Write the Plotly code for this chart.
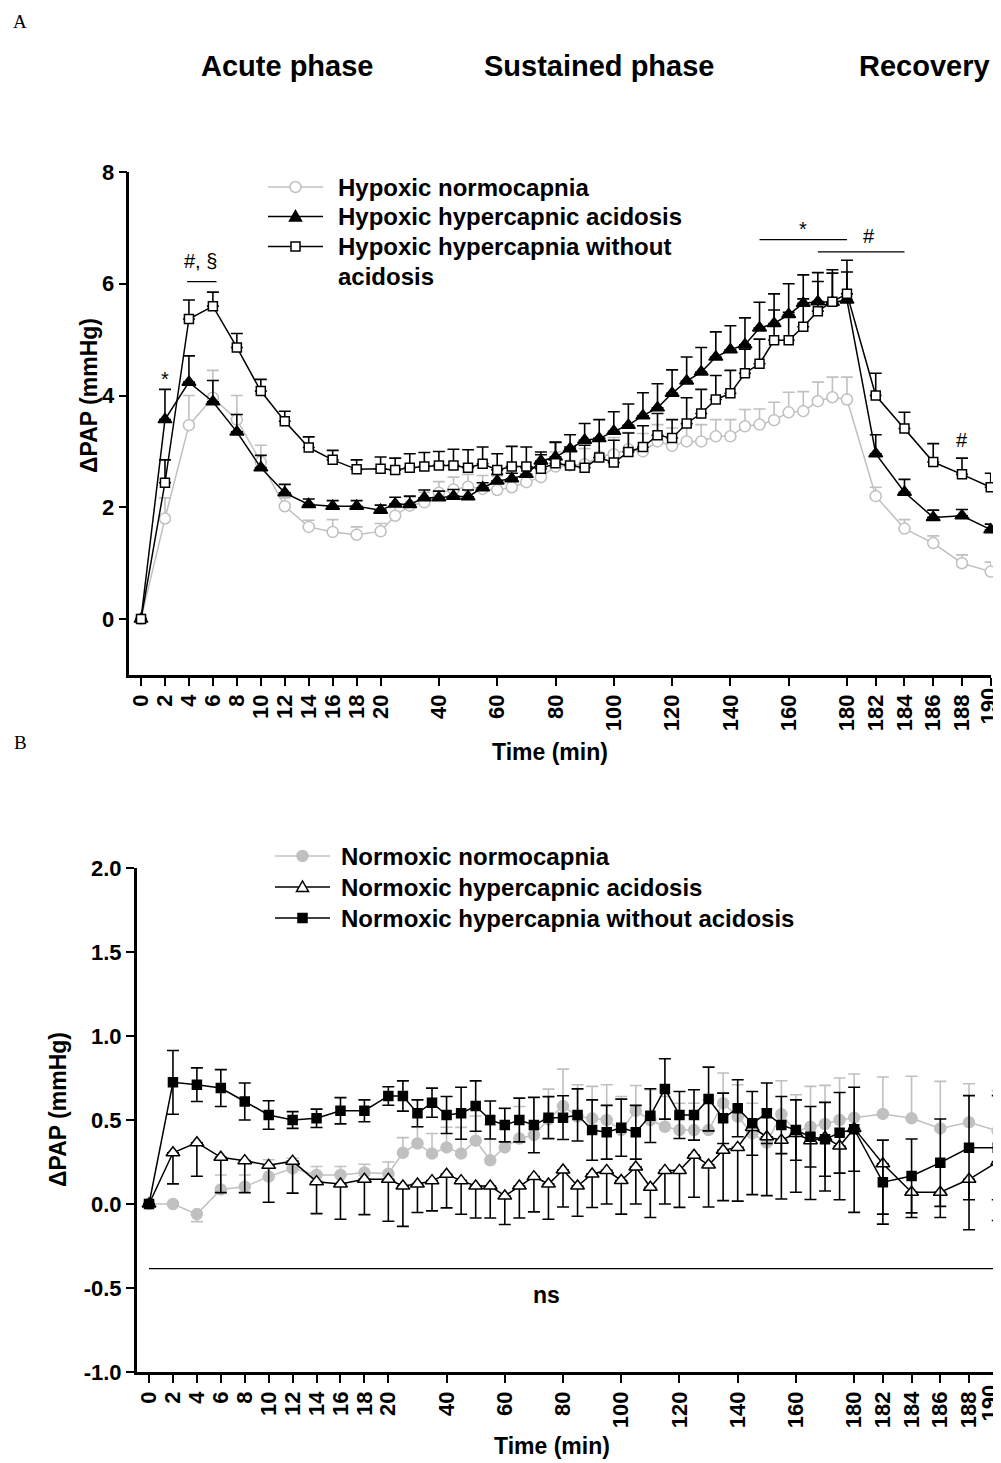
import numpy as np
import plotly.graph_objects as go

# ---------------- data ----------------
TIME = [0, 2, 4, 6, 8, 10, 12, 14, 16, 18, 20,
        25, 30, 35, 40, 45, 50, 55, 60, 65, 70, 75, 80, 85, 90, 95, 100,
        105, 110, 115, 120, 125, 130, 135, 140, 145, 150, 155, 160, 165, 170, 175, 180,
        182, 184, 186, 188, 190]

TICK_TIMES = [0, 2, 4, 6, 8, 10, 12, 14, 16, 18, 20, 40, 60, 80, 100, 120, 140, 160,
              180, 182, 184, 186, 188, 190]
TICK_LABELS = [str(t) for t in TICK_TIMES]

# Panel A
hypoxic_normocapnia = [0, 1.80, 3.47, 3.96, 3.57, 2.81, 2.02, 1.65, 1.56, 1.51, 1.57,
                       1.85, 2.03, 2.09, 2.26, 2.32, 2.37, 2.33, 2.31, 2.36, 2.45, 2.54, 2.73, 2.75, 2.77, 2.91, 2.95,
                       3.04, 3.00, 3.18, 3.10, 3.18, 3.18, 3.27, 3.27, 3.45, 3.48, 3.56, 3.70, 3.72, 3.90, 3.97, 3.93,
                       2.20, 1.62, 1.36, 1.00, 0.85]
hypoxic_normocapnia_sem = [0, 0.37, 0.53, 0.49, 0.43, 0.30, 0.15, 0.12, 0.22, 0.14, 0.14,
                           0.15, 0.15, 0.18, 0.20, 0.22, 0.22, 0.24, 0.25, 0.25, 0.25, 0.27, 0.26, 0.28, 0.28, 0.28, 0.30,
                           0.30, 0.32, 0.30, 0.32, 0.30, 0.30, 0.30, 0.30, 0.30, 0.28, 0.32, 0.36, 0.35, 0.34, 0.36, 0.40,
                           0.16, 0.16, 0.13, 0.15, 0.17]

hypoxic_hca = [0, 3.57, 4.24, 3.89, 3.35, 2.71, 2.26, 2.05, 2.02, 2.02, 1.95,
               2.06, 2.05, 2.17, 2.17, 2.20, 2.19, 2.35, 2.47, 2.51, 2.59, 2.83, 2.90, 3.05, 3.20, 3.23, 3.36,
               3.47, 3.64, 3.78, 4.04, 4.26, 4.42, 4.69, 4.82, 4.91, 5.21, 5.29, 5.45, 5.65, 5.68, 5.67, 5.71,
               2.96, 2.27, 1.82, 1.85, 1.60]
hypoxic_hca_sem = [0, 0.54, 0.47, 0.38, 0.31, 0.22, 0.15, 0.10, 0.10, 0.10, 0.09,
                   0.12, 0.15, 0.14, 0.12, 0.12, 0.12, 0.09, 0.12, 0.10, 0.12, 0.16, 0.26, 0.25, 0.30, 0.34, 0.35,
                   0.38, 0.41, 0.43, 0.42, 0.43, 0.44, 0.45, 0.43, 0.48, 0.46, 0.53, 0.55, 0.51, 0.52, 0.58, 0.50,
                   0.34, 0.23, 0.13, 0.11, 0.10]

hypoxic_hc_noacid = [0, 2.44, 5.37, 5.60, 4.86, 4.08, 3.54, 3.07, 2.85, 2.68, 2.69,
                     2.67, 2.71, 2.73, 2.75, 2.75, 2.71, 2.78, 2.67, 2.73, 2.73, 2.69, 2.79, 2.75, 2.71, 2.89, 2.80,
                     2.99, 3.08, 3.29, 3.24, 3.50, 3.68, 3.93, 4.04, 4.40, 4.57, 4.99, 4.99, 5.23, 5.51, 5.68, 5.82,
                     4.00, 3.41, 2.81, 2.59, 2.36]
hypoxic_hc_noacid_sem = [0, 0.41, 0.34, 0.25, 0.25, 0.21, 0.18, 0.19, 0.17, 0.17, 0.21,
                         0.21, 0.25, 0.25, 0.25, 0.29, 0.32, 0.30, 0.29, 0.36, 0.35, 0.25, 0.38, 0.33, 0.40, 0.35, 0.40,
                         0.34, 0.38, 0.39, 0.33, 0.46, 0.43, 0.43, 0.41, 0.43, 0.44, 0.54, 0.50, 0.50, 0.53, 0.51, 0.60,
                         0.40, 0.29, 0.33, 0.29, 0.25]

# Panel B
normoxic_normocapnia = [0, 0.0, -0.06, 0.087, 0.103, 0.163, 0.212, 0.173, 0.173, 0.187, 0.18,
                        0.305, 0.36, 0.30, 0.337, 0.30, 0.377, 0.26, 0.337, 0.39, 0.41, 0.504, 0.583, 0.52, 0.51, 0.50, 0.44,
                        0.555, 0.50, 0.46, 0.44, 0.44, 0.44, 0.60, 0.52, 0.42, 0.365, 0.534, 0.43, 0.46, 0.476, 0.50, 0.514,
                        0.536, 0.51, 0.45, 0.486, 0.435]
normoxic_normocapnia_sem_up = [0, 0, 0, 0.086, 0.07, 0.10, 0.06, 0.05, 0.05, 0.05, 0.07,
                               0.09, 0.10, 0.12, 0.12, 0.156, 0.147, 0.21, 0.23, 0.19, 0.22, 0.18, 0.22, 0.19, 0.19, 0.21, 0.20,
                               0.15, 0.18, 0.18, 0.16, 0.16, 0.18, 0.18, 0.19, 0.18, 0.20, 0.20, 0.22, 0.24, 0.23, 0.25, 0.26,
                               0.22, 0.25, 0.28, 0.23, 0.24]
normoxic_normocapnia_sem_down = [0, 0, 0.045, 0, 0, 0, 0, 0, 0, 0, 0,
                                 0, 0, 0, 0, 0, 0, 0, 0, 0, 0, 0, 0, 0, 0, 0, 0,
                                 0, 0, 0, 0, 0, 0, 0, 0, 0, 0, 0, 0, 0, 0, 0, 0,
                                 0, 0, 0, 0, 0]

normoxic_hca = [0, 0.305, 0.365, 0.278, 0.258, 0.23, 0.255, 0.133, 0.119, 0.147, 0.147,
                0.107, 0.119, 0.139, 0.177, 0.139, 0.107, 0.107, 0.048, 0.107, 0.163, 0.119, 0.202, 0.107, 0.179, 0.20, 0.14,
                0.22, 0.10, 0.20, 0.20, 0.29, 0.232, 0.32, 0.337, 0.456, 0.40, 0.38, 0.42, 0.377, 0.397, 0.345, 0.45,
                0.24, 0.07, 0.07, 0.147, 0.252]
normoxic_hca_sem = [0, 0.185, 0.20, 0.21, 0.19, 0.22, 0.19, 0.19, 0.21, 0.21, 0.25,
                    0.24, 0.17, 0.18, 0.20, 0.20, 0.19, 0.19, 0.17, 0.19, 0.21, 0.21, 0.22, 0.18, 0.20, 0.20, 0.20,
                    0.22, 0.18, 0.20, 0.22, 0.25, 0.25, 0.30, 0.32, 0.40, 0.35, 0.35, 0.35, 0.35, 0.32, 0.32, 0.50,
                    0.30, 0.15, 0.15, 0.30, 0.35]

normoxic_hc_noacid = [0, 0.724, 0.71, 0.69, 0.61, 0.53, 0.50, 0.51, 0.555, 0.555, 0.643,
                      0.643, 0.54, 0.603, 0.53, 0.54, 0.583, 0.50, 0.47, 0.50, 0.47, 0.514, 0.514, 0.53, 0.44, 0.427, 0.454,
                      0.427, 0.526, 0.685, 0.53, 0.53, 0.625, 0.51, 0.57, 0.48, 0.54, 0.47, 0.44, 0.40, 0.385, 0.424, 0.445,
                      0.13, 0.167, 0.246, 0.335, 0.335]
normoxic_hc_noacid_sem = [0, 0.19, 0.10, 0.11, 0.11, 0.085, 0.05, 0.055, 0.078, 0.065, 0.055,
                          0.09, 0.08, 0.087, 0.11, 0.155, 0.15, 0.113, 0.10, 0.13, 0.165, 0.125, 0.13, 0.155, 0.18, 0.16, 0.17,
                          0.16, 0.16, 0.18, 0.14, 0.15, 0.19, 0.15, 0.17, 0.19, 0.18, 0.17, 0.18, 0.18, 0.22, 0.24, 0.25,
                          0.25, 0.22, 0.26, 0.31, 0.31]

# ---------------- broken time axis ----------------
def to_axis(t):
    t = np.asarray(t, dtype=float)
    return np.where(t <= 20, t,
                    np.where(t <= 180, 20 + (t - 20) * 0.2433,
                             20 + 160 * 0.2433 + (t - 180) * 1.2))

PAGE_W, PAGE_H = 1001, 1463
OFF = 8  # default body margin of the html page
W, H = PAGE_W - OFF, PAGE_H - OFF
GREY = '#c0c0c0'
FONT = 'Liberation Sans, Arial, sans-serif'
X = to_axis(TIME)
zeros = [0] * len(TIME)

def px_x(p):
    return (p - OFF) / W

def px_y(p):
    return 1 - (p - OFF) / H

fig = go.Figure()

def series(y, up, down, xa, ya, name, symbol, size, fill, color, lw=1.5):
    fig.add_trace(go.Scatter(
        x=X, y=y, name=name, mode='lines+markers', xaxis=xa, yaxis=ya, showlegend=False,
        line=dict(color=color, width=lw),
        marker=dict(symbol=symbol, size=size, color=fill, line=dict(color=color, width=1.5)),
        error_y=dict(type='data', symmetric=False, array=up, arrayminus=down,
                     color=color, thickness=1.6, width=6),
        cliponaxis=False))

# Panel A
series(hypoxic_normocapnia, hypoxic_normocapnia_sem, zeros, 'x', 'y',
       'Hypoxic normocapnia', 'circle', 11, 'white', GREY)
series(hypoxic_hca, hypoxic_hca_sem, zeros, 'x', 'y',
       'Hypoxic hypercapnic acidosis', 'triangle-up', 12, 'black', 'black')
series(hypoxic_hc_noacid, hypoxic_hc_noacid_sem, zeros, 'x', 'y',
       'Hypoxic hypercapnia without acidosis', 'square', 9, 'white', 'black')

# Panel B
series(normoxic_normocapnia, normoxic_normocapnia_sem_up, normoxic_normocapnia_sem_down, 'x2', 'y2',
       'Normoxic normocapnia', 'circle', 11, GREY, GREY)
series(normoxic_hca, zeros, normoxic_hca_sem, 'x2', 'y2',
       'Normoxic hypercapnic acidosis', 'triangle-up', 12, 'white', 'black')
series(normoxic_hc_noacid, normoxic_hc_noacid_sem, normoxic_hc_noacid_sem, 'x2', 'y2',
       'Normoxic hypercapnia without acidosis', 'square', 9, 'black', 'black')

# the last label (190) sits at the page edge; it is written as an annotation nudged inward
axis_ticktext = TICK_LABELS[:-1] + ['']

tickfont = dict(family=FONT, size=22, color='black', weight='bold')
xcommon = dict(tickvals=to_axis(TICK_TIMES), ticktext=axis_ticktext, tickangle=-90,
               ticks='outside', ticklen=8, tickwidth=2, tickcolor='black',
               showline=True, linewidth=2.5, linecolor='black', showgrid=False, zeroline=False,
               tickfont=tickfont, fixedrange=True, automargin=False)
ycommon = dict(ticks='outside', ticklen=8, tickwidth=2, tickcolor='black',
               showline=True, linewidth=2.5, linecolor='black', showgrid=False, zeroline=False,
               tickfont=tickfont, fixedrange=True, automargin=False)

A_y0, A_y8 = 675, 172
B_ym1, B_y2 = 1372, 868

fig.update_layout(
    width=W, height=H, margin=dict(l=0, r=0, t=0, b=0),
    paper_bgcolor='white', plot_bgcolor='white', showlegend=False,
    xaxis=dict(domain=[px_x(129.3), px_x(991)], range=[-0.977, 70.95], anchor='y', **xcommon),
    yaxis=dict(domain=[px_y(A_y0), px_y(A_y8)], range=[-1, 8], anchor='x',
               tickvals=[0, 2, 4, 6, 8], ticktext=['0', '2', '4', '6', '8'], **ycommon),
    xaxis2=dict(domain=[px_x(136.7), min(1.0, px_x(998))], range=[-1.03, 70.95], anchor='y2', **xcommon),
    yaxis2=dict(domain=[px_y(B_ym1), px_y(B_y2)], range=[-1, 2], anchor='x2',
                tickvals=[-1, -0.5, 0, 0.5, 1, 1.5, 2],
                ticktext=['-1.0', '-0.5', '0.0', '0.5', '1.0', '1.5', '2.0'], **ycommon),
)

ann = []
shapes = []

def paper_text(text, x, y, size, family=FONT, weight='bold', angle=0, xanchor='center', yanchor='middle'):
    ann.append(dict(text=text, x=px_x(x), y=px_y(y), xref='paper', yref='paper',
                    showarrow=False, xanchor=xanchor, yanchor=yanchor, textangle=angle,
                    borderpad=0,
                    font=dict(family=family, size=size, color='black', weight=weight)))

# last tick label of each time axis
paper_text(TICK_LABELS[-1], 988, A_y0 + 12, 22, angle=-90, yanchor='top')
paper_text(TICK_LABELS[-1], 989, B_ym1 + 12, 22, angle=-90, yanchor='top')

# ---- legends (key line + marker + label) ----
def legend_key(x0, x1, y, color, symbol, fill, size):
    shapes.append(dict(type='line', xref='paper', yref='paper', x0=px_x(x0), x1=px_x(x1),
                       y0=px_y(y), y1=px_y(y), line=dict(color=color, width=1.5)))
    cx = (x0 + x1) / 2
    r = size / 2
    if symbol == 'circle':
        shapes.append(dict(type='circle', xref='paper', yref='paper',
                           x0=px_x(cx - r), x1=px_x(cx + r), y0=px_y(y + r), y1=px_y(y - r),
                           fillcolor=fill, line=dict(color=color, width=1.5)))
    elif symbol == 'square':
        shapes.append(dict(type='rect', xref='paper', yref='paper',
                           x0=px_x(cx - r), x1=px_x(cx + r), y0=px_y(y + r), y1=px_y(y - r),
                           fillcolor=fill, line=dict(color=color, width=1.5)))
    else:
        path = 'M {} {} L {} {} L {} {} Z'.format(
            px_x(cx - r), px_y(y + r * 0.75), px_x(cx + r), px_y(y + r * 0.75), px_x(cx), px_y(y - r))
        shapes.append(dict(type='path', xref='paper', yref='paper', path=path,
                           fillcolor=fill, line=dict(color=color, width=1.5)))

LEG_A = [('Hypoxic normocapnia', GREY, 'circle', 'white', 11),
         ('Hypoxic hypercapnic acidosis', 'black', 'triangle', 'black', 12),
         ('Hypoxic hypercapnia without', 'black', 'square', 'white', 9)]
rows_a = [187, 216.5, 246.5]
for (lab, col, sym, fill, sz), ry in zip(LEG_A, rows_a):
    legend_key(268, 323, ry, col, sym, fill, sz)
    paper_text(lab, 337, ry, 24, xanchor='left')
paper_text('acidosis', 337, 276, 24, xanchor='left')

LEG_B = [('Normoxic normocapnia', GREY, 'circle', GREY, 11),
         ('Normoxic hypercapnic acidosis', 'black', 'triangle', 'white', 12),
         ('Normoxic hypercapnia without acidosis', 'black', 'square', 'black', 9)]
rows_b = [856, 887, 918]
for (lab, col, sym, fill, sz), ry in zip(LEG_B, rows_b):
    legend_key(275, 330, ry, col, sym, fill, sz)
    paper_text(lab, 340, ry, 24, xanchor='left')

paper_text('A', 20, 22, 19, family='Liberation Serif, Times New Roman, serif', weight='normal')
paper_text('B', 20, 742, 19, family='Liberation Serif, Times New Roman, serif', weight='normal')
paper_text('Acute phase', 287, 66, 29)
paper_text('Sustained phase', 599, 66, 29)
paper_text('Recovery', 924, 66, 29)
paper_text('Time (min)', 550, 752, 23)
paper_text('Time (min)', 552, 1446, 23)
paper_text('ΔPAP (mmHg)', 89, 396, 23, angle=-90)
paper_text('ΔPAP (mmHg)', 58, 1110, 23, angle=-90)

def data_text(text, t, y, xa, ya, size=20):
    ann.append(dict(text=text, x=float(to_axis(t)), y=y, xref=xa, yref=ya, showarrow=False,
                    xanchor='center', yanchor='middle',
                    font=dict(family=FONT, size=size, color='black')))

data_text('*', 2, 4.30, 'x', 'y')
data_text('#, §', 5.0, 6.40, 'x', 'y')
data_text('*', 165, 6.98, 'x', 'y')
data_text('#', 181.5, 6.86, 'x', 'y')
data_text('#', 188, 3.21, 'x', 'y')
ann.append(dict(text='ns', x=33.25, y=-0.54, xref='x2', yref='y2', showarrow=False,
                xanchor='center', yanchor='middle',
                font=dict(family=FONT, size=23, color='black', weight='bold')))

def hline(t0, t1, y, xa, ya):
    shapes.append(dict(type='line', x0=float(to_axis(t0)), x1=float(to_axis(t1)), y0=y, y1=y,
                       xref=xa, yref=ya, line=dict(color='black', width=1.3)))

hline(3.85, 6.3, 6.04, 'x', 'y')
hline(150, 180, 6.79, 'x', 'y')
hline(170, 184, 6.57, 'x', 'y')
shapes.append(dict(type='line', x0=0, x1=71.3, y0=-0.385, y1=-0.385, xref='x2', yref='y2',
                   line=dict(color='black', width=1.3)))

fig.update_layout(annotations=ann, shapes=shapes)

fig.write_html('out.html')
